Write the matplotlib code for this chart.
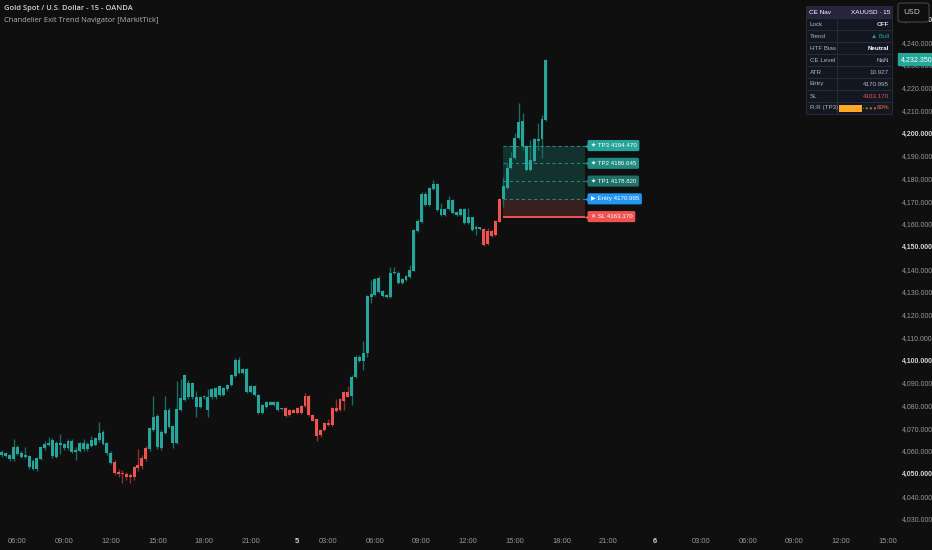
import numpy as np
import matplotlib
matplotlib.use("Agg")
from matplotlib import pyplot as plt
from matplotlib import font_manager
from matplotlib.patches import Rectangle, FancyBboxPatch
from matplotlib.transforms import blended_transform_factory

# ---- data (15 min XAUUSD bars) ----
opens = [
    4058.1, 4058.9, 4058.1, 4056.2, 4061.8, 4058.9, 4057.4, 4057.7, 4055.7, 4051.8,
    4056.2, 4061.1, 4062.6, 4064.8, 4057.4, 4063.3, 4062.8, 4061.1, 4064.3, 4059.6,
    4060.1, 4063.3, 4060.6, 4062.1, 4065.5, 4064.8, 4068.3, 4063.3, 4059.2, 4055.2,
    4050.7, 4049.8, 4049.8, 4048.3, 4048.6, 4052.3, 4053.3, 4056.2, 4060.6, 4069.2,
    4075.3, 4061.1, 4068.0, 4078.0, 4070.9, 4063.6, 4078.0, 4082.4, 4090.0, 4083.6,
    4083.6, 4079.4, 4083.6, 4083.6, 4083.6, 4087.5, 4084.6, 4087.5, 4087.1, 4089.0,
    4093.0, 4100.0, 4094.4, 4095.9, 4086.0, 4088.5, 4084.6, 4076.5, 4079.4, 4081.6,
    4080.2, 4081.6, 4078.3, 4078.7, 4075.8, 4078.0, 4076.5, 4076.5, 4079.7, 4084.1,
    4075.8, 4073.9, 4067.0, 4069.2, 4071.4, 4071.4, 4077.7, 4078.0, 4082.1, 4086.0,
    4084.1, 4092.7, 4101.5, 4099.7, 4103.2, 4127.9, 4128.6, 4136.0, 4130.5, 4128.6,
    4127.9, 4138.2, 4138.5, 4134.1, 4135.2, 4136.7, 4139.4, 4157.0, 4161.0, 4173.1,
    4168.3, 4175.2, 4177.5, 4166.4, 4163.9, 4166.4, 4170.5, 4165.3, 4163.9, 4166.4,
    4160.2, 4162.8, 4157.6, 4158.4, 4157.6, 4151.1, 4157.0, 4155.0, 4161.0, 4170.8,
    4175.6, 4184.4, 4188.8, 4197.6, 4205.3, 4194.3, 4183.7, 4187.8, 4196.6, 4197.2, 4205.7,
]
highs = [
    4060.4, 4059.5, 4058.8, 4065.1, 4062.5, 4059.8, 4061.5, 4058.2, 4056.5, 4057.2,
    4062.0, 4064.5, 4065.9, 4065.5, 4064.2, 4067.4, 4063.5, 4065.0, 4065.0, 4061.5,
    4064.0, 4065.0, 4064.0, 4066.5, 4066.0, 4072.8, 4069.0, 4064.0, 4060.0, 4056.0,
    4052.0, 4051.5, 4050.5, 4050.0, 4053.5, 4060.6, 4058.0, 4062.0, 4070.5, 4084.1,
    4076.0, 4069.0, 4084.1, 4079.0, 4071.5, 4090.9, 4091.5, 4093.8, 4091.0, 4090.5,
    4086.5, 4084.0, 4084.6, 4087.1, 4087.5, 4088.0, 4089.0, 4088.0, 4089.5, 4093.8,
    4101.0, 4101.5, 4096.5, 4096.5, 4089.0, 4089.0, 4085.0, 4080.8, 4082.0, 4082.0,
    4082.0, 4082.0, 4079.0, 4079.2, 4078.5, 4078.5, 4079.2, 4080.2, 4085.6, 4084.6,
    4076.3, 4074.5, 4069.6, 4072.8, 4073.9, 4079.2, 4082.7, 4083.2, 4086.5, 4088.5,
    4093.2, 4102.0, 4102.0, 4108.5, 4128.7, 4135.2, 4136.0, 4136.8, 4131.0, 4129.0,
    4141.1, 4140.8, 4139.0, 4136.0, 4137.5, 4141.8, 4157.8, 4161.9, 4174.2, 4173.8,
    4176.0, 4179.3, 4178.0, 4169.0, 4166.8, 4172.2, 4171.0, 4165.8, 4166.8, 4166.8,
    4166.8, 4163.2, 4159.5, 4158.8, 4158.0, 4158.0, 4157.4, 4161.8, 4171.3, 4180.8,
    4186.6, 4191.8, 4200.1, 4213.1, 4209.0, 4194.7, 4196.9, 4198.0, 4204.3, 4207.9, 4232.6,
]
lows = [
    4057.4, 4057.2, 4055.5, 4055.7, 4058.0, 4057.0, 4057.0, 4052.0, 4051.5, 4051.0,
    4055.8, 4060.5, 4062.0, 4057.0, 4057.0, 4058.6, 4060.5, 4060.5, 4059.0, 4056.0,
    4059.5, 4060.0, 4060.0, 4061.5, 4062.0, 4064.0, 4062.5, 4058.0, 4054.0, 4049.5,
    4048.5, 4046.0, 4047.0, 4045.7, 4047.0, 4051.0, 4052.0, 4055.5, 4060.0, 4068.5,
    4061.0, 4060.5, 4067.5, 4070.0, 4061.1, 4063.0, 4077.5, 4082.0, 4083.0, 4083.0,
    4074.7, 4079.0, 4083.0, 4075.0, 4083.0, 4083.0, 4084.0, 4084.0, 4086.5, 4088.5,
    4092.5, 4094.0, 4094.0, 4085.5, 4085.5, 4084.0, 4076.0, 4076.0, 4079.0, 4080.0,
    4079.8, 4077.5, 4078.0, 4075.0, 4075.5, 4076.5, 4076.0, 4076.0, 4079.2, 4075.5,
    4073.0, 4064.5, 4066.0, 4068.8, 4071.0, 4071.0, 4077.2, 4077.5, 4078.0, 4083.5,
    4080.2, 4092.2, 4099.2, 4095.6, 4101.5, 4125.0, 4128.0, 4129.6, 4127.7, 4127.2,
    4127.5, 4137.9, 4133.6, 4133.6, 4134.8, 4136.3, 4139.0, 4156.6, 4160.5, 4168.0,
    4168.0, 4174.8, 4165.7, 4163.5, 4163.5, 4166.0, 4164.2, 4163.5, 4163.5, 4159.8,
    4159.8, 4157.0, 4155.1, 4157.1, 4150.3, 4150.7, 4154.2, 4154.6, 4160.6, 4167.5,
    4175.2, 4184.0, 4188.4, 4197.2, 4192.5, 4183.3, 4183.3, 4187.4, 4192.5, 4188.8, 4205.3,
]
closes = [
    4059.6, 4057.7, 4056.2, 4061.5, 4058.6, 4057.4, 4058.1, 4052.7, 4052.1, 4056.7,
    4061.5, 4063.0, 4063.6, 4057.7, 4063.6, 4062.6, 4061.1, 4064.3, 4059.6, 4060.4,
    4063.3, 4060.6, 4063.0, 4064.8, 4062.6, 4068.0, 4063.0, 4058.9, 4054.8, 4050.4,
    4049.8, 4050.4, 4048.6, 4049.3, 4052.7, 4053.7, 4056.7, 4061.1, 4069.9, 4074.7,
    4061.8, 4068.4, 4078.0, 4070.6, 4063.6, 4078.3, 4083.1, 4093.4, 4083.6, 4090.0,
    4079.4, 4083.6, 4084.1, 4078.0, 4087.1, 4083.6, 4088.5, 4084.6, 4089.0, 4093.4,
    4100.0, 4094.4, 4095.9, 4086.0, 4088.5, 4084.6, 4076.5, 4080.2, 4081.6, 4080.2,
    4081.6, 4078.0, 4078.7, 4075.3, 4078.0, 4076.8, 4078.7, 4079.7, 4084.1, 4075.8,
    4073.3, 4066.5, 4069.2, 4072.4, 4072.4, 4078.7, 4078.7, 4082.7, 4086.0, 4083.9,
    4092.7, 4101.5, 4099.7, 4103.2, 4128.2, 4129.1, 4135.5, 4130.1, 4128.2, 4127.6,
    4138.5, 4138.9, 4134.1, 4135.5, 4137.0, 4139.6, 4157.3, 4161.4, 4173.1, 4168.3,
    4175.6, 4177.5, 4166.1, 4163.9, 4166.4, 4170.5, 4164.6, 4163.9, 4166.4, 4160.2,
    4163.1, 4157.3, 4158.4, 4157.5, 4150.7, 4157.0, 4154.6, 4161.4, 4170.995, 4176.6,
    4184.4, 4188.8, 4197.6, 4205.0, 4194.3, 4183.7, 4188.1, 4197.2, 4197.2, 4206.0, 4232.35,
]
# CE trend runs: (number of bars, direction)
trend_runs = [(29, 1), (9, -1), (35, 1), (17, -1), (34, 1), (5, -1), (12, 1)]

time_ticks = [4, 16, 28, 40, 52, 64, 76, 84, 96, 108, 120, 132, 144, 156, 168, 180, 192, 204, 216, 228]
time_labels = ["06:00", "09:00", "12:00", "15:00", "18:00", "21:00", "5", "03:00", "06:00", "09:00",
               "12:00", "15:00", "18:00", "21:00", "6", "03:00", "06:00", "09:00", "12:00", "15:00"]

entry = 4170.995
sl = 4163.170
tp_levels = [4178.820, 4186.645, 4194.470]
tp_names = ["TP1", "TP2", "TP3"]

table_keys = ["Lock", "Trend", "HTF Bias", "CE Level", "ATR", "Entry", "SL", "R:R (TP3)"]
table_vals = ["OFF", "▲ Bull", "Neutral", "NaN", "10.927", "4170.995", "4163.170", "60%"]
rr_fill = 0.6

# ---- style ----
BG = "#0f0f0f"
TEAL = "#26a69a"
RED = "#ef5350"
TEAL_WICK = "#1d6a62"
RED_WICK = "#8a3133"
AXIS_TXT = "#9598a1"

names = {f.name for f in font_manager.fontManager.ttflist}
NARROW = "Liberation Sans" if "Liberation Sans" in names else "DejaVu Sans"
UI = "Open Sans" if "Open Sans" in names else "DejaVu Sans"
SMALL = [NARROW, "DejaVu Sans"]

W, H = 932, 550
fig = plt.figure(figsize=(W / 100, H / 100), dpi=100, facecolor=BG)
ax = fig.add_axes([0, 20 / H, 896 / W, 530 / H])
ax.set_facecolor(BG)
for s in ax.spines.values():
    s.set_visible(False)

trend = []
for n, d in trend_runs:
    trend += [d] * n
trend = np.array(trend)
o = np.array(opens)
h = np.array(highs)
l = np.array(lows)
c = np.array(closes)
x = np.arange(len(c))

body_col = np.where(trend > 0, TEAL, RED)
wick_col = np.where(trend > 0, TEAL_WICK, RED_WICK)

# trade zone behind candles
zone_x0, zone_x1 = 128.9, 150.1
ax.fill_between([zone_x0, zone_x1], entry, tp_levels[-1], color="#13312d", lw=0, zorder=1)
ax.fill_between([zone_x0, zone_x1], sl, entry, color="#3a1f20", lw=0, zorder=1)

ax.vlines(x, l, h, colors=wick_col, lw=1.0, zorder=2)
bottoms = np.minimum(o, c)
heights = np.maximum(np.abs(c - o), 0.45)
ax.bar(x, heights, bottom=bottoms, width=0.75, color=body_col, lw=0, zorder=3)

for lvl in tp_levels + [entry]:
    ax.hlines(lvl, zone_x0, zone_x1, colors=TEAL, lw=0.8, linestyles=(0, (3, 2.5)), alpha=0.75, zorder=4)
ax.hlines(sl, zone_x0, zone_x1, colors=RED, lw=1.4, zorder=4)

# level tags
tags = [(f"✦ {n} {v:.3f}", v, col) for n, v, col in
        zip(tp_names, tp_levels, ["#1d6f67", "#208b80", "#26a69a"])]
tags += [(f"▶ Entry {entry:.3f}", entry, "#2196f3"), (f"✕ SL {sl:.3f}", sl, RED)]
for txt, v, col in tags:
    ax.plot([150.45], [v], marker="<", ms=5, color=col, mec="none", zorder=6, clip_on=False)
    ax.text(151.5, v, txt, ha="left", va="center", fontsize=4.4, color="white",
            family=SMALL, zorder=7,
            bbox=dict(boxstyle="round,pad=0.5,rounding_size=0.25", fc=col, ec="none"))

ax.set_xlim(-0.5, 230.1)
ax.set_ylim(4025.1, 4258.6)

# price scale
yt = np.arange(4030, 4251, 10)
ax.yaxis.tick_right()
ax.set_yticks(yt)
ax.set_yticklabels([f"{v:,.3f}" for v in yt])
ax.tick_params(axis="y", length=0, pad=4, labelsize=5.0, labelcolor=AXIS_TXT)
for v, lab in zip(yt, ax.get_yticklabels()):
    lab.set_family(SMALL)
    if v % 50 == 0:
        lab.set_color("#d1d4dc")
        lab.set_fontweight("bold")

ax.set_xticks(time_ticks)
ax.set_xticklabels(time_labels)
ax.tick_params(axis="x", length=0, pad=6, labelsize=5.4, labelcolor=AXIS_TXT)
for lab in ax.get_xticklabels():
    lab.set_family(SMALL)
    if len(lab.get_text()) == 1:
        lab.set_color("#d1d4dc")
        lab.set_fontweight("bold")

# last price tag
tr = blended_transform_factory(ax.transAxes, ax.transData)
ax.text(1.0055, c[-1], f"{c[-1]:,.3f}", transform=tr, ha="left", va="center", fontsize=5.0,
        color="white", family=SMALL, zorder=10, clip_on=False,
        bbox=dict(boxstyle="round,pad=0.45,rounding_size=0.15", fc=TEAL, ec="none"))


def px(xp, yp):
    return xp / W, 1 - yp / H


def rect(x0, y0, x1, y1, **kw):
    p = Rectangle(px(x0, y1), (x1 - x0) / W, (y1 - y0) / H, transform=fig.transFigure, **kw)
    fig.add_artist(p)
    return p


# currency box
fig.add_artist(FancyBboxPatch(px(898, 22), 31 / W, 19 / H, boxstyle="round,pad=0,rounding_size=0.004",
                              transform=fig.transFigure, fc=BG, ec="#434651", lw=0.8, zorder=20))
fig.text(*px(903, 12.5), "USD", fontsize=6, color="#d1d4dc", va="center", ha="left", family=UI, zorder=21)

# titles
fig.text(*px(4, 8), "Gold Spot / U.S. Dollar - 15 - OANDA", fontsize=5.4, color="#d1d4dc",
         weight="semibold", va="center", family=UI)
fig.text(*px(4, 20), "Chandelier Exit Trend Navigator [MarkitTick]", fontsize=5.4, color="#b2b5be",
         va="center", family=UI)

# info table
tx0, tx1, tdiv = 806, 892, 837
top, hdr_h, row_h = 6, 12, 12
rect(tx0, top, tx1, top + hdr_h, fc="#28233f", ec="#2a2e39", lw=0.6, zorder=20)
fig.text(*px(809, top + hdr_h / 2), "CE Nav", fontsize=4.6, color="white", va="center",
         family=SMALL, zorder=21)
fig.text(*px(890, top + hdr_h / 2), "XAUUSD · 15", fontsize=4.6, color="white", va="center", ha="right",
         family=SMALL, zorder=21)
val_colors = ["#d1d4dc", TEAL, "white", "#b2b5be", "#b2b5be", "#b2b5be", RED, "#ff6b3d"]
for i, (k, v) in enumerate(zip(table_keys, table_vals)):
    y0 = top + hdr_h + i * row_h
    rect(tx0, y0, tdiv, y0 + row_h, fc="#131722", ec="#2a2e39", lw=0.6, zorder=20)
    rect(tdiv, y0, tx1, y0 + row_h, fc="#131722", ec="#2a2e39", lw=0.6, zorder=20)
    fig.text(*px(810, y0 + row_h / 2), k, fontsize=4.5, color="#b2b5be", va="center",
             family=SMALL, zorder=21)
    fig.text(*px(889, y0 + row_h / 2), v, fontsize=4.5, color=val_colors[i], va="center", ha="right",
             weight="bold" if k in ("Lock", "HTF Bias") else "normal",
             family=SMALL, zorder=21)
    if k.startswith("R:R"):
        bx0, bx1 = 839, 877
        mid = bx0 + (bx1 - bx0) * rr_fill
        rect(bx0, y0 + 2.5, mid, y0 + row_h - 2.5, fc="#ffa726", ec="none", zorder=21)
        hp = rect(mid + 1, y0 + 3, bx1, y0 + row_h - 3, fc="none", hatch="....", zorder=21)
        hp.set_edgecolor("#b8772a")
        hp.set_linewidth(0)

fig.savefig("out.png", dpi=100, facecolor=BG)
